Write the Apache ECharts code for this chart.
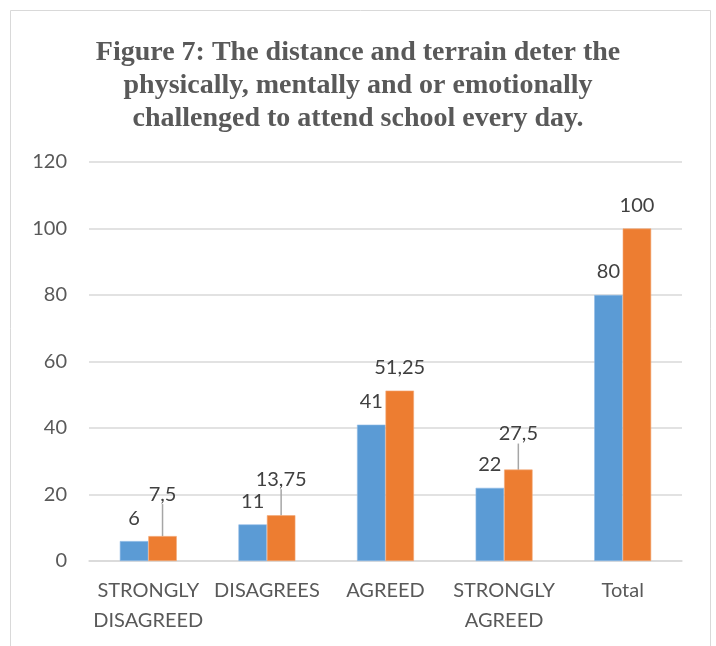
<!DOCTYPE html>
<html>
<head>
<meta charset="utf-8">
<script src="https://cdn.jsdelivr.net/npm/echarts@6/dist/echarts.min.js"></script>
<style>
  html, body { margin: 0; padding: 0; background: #ffffff; }
  #chart { width: 716px; height: 646px; }
</style>
</head>
<body>
<div id="chart"></div>
<script>
// Survey responses per category
const categories = ['STRONGLY\nDISAGREED', 'DISAGREES', 'AGREED', 'STRONGLY\nAGREED', 'Total'];
const countValues = [6, 11, 41, 22, 80];
const percentValues = [7.5, 13.75, 51.25, 27.5, 100];
const yTicks = [0, 20, 40, 60, 80, 100, 120];

// Extra lift for crowded orange labels (drawn with a leader line)
const percentLabelLift = [-19, -13, 0, -13, 0];

const titleText = 'Figure 7: The distance and terrain deter the\nphysically, mentally and or emotionally\nchallenged to attend school every day.';

const commaNumber = v => String(v).replace('.', ',');

// Only lifted labels get a leader line
const percentData = percentValues.map((v, i) => ({
  value: v,
  labelLine: { show: percentLabelLift[i] !== 0 }
}));

const chart = echarts.init(document.getElementById('chart'), null, { renderer: 'canvas' });

const valueLabel = {
  show: true,
  position: 'top',
  distance: 13,
  color: '#404040',
  fontFamily: 'Lato',
  fontSize: 20,
  formatter: p => commaNumber(p.value)
};

chart.setOption({
  animation: false,
  backgroundColor: '#ffffff',
  title: {
    text: titleText,
    left: 'center',
    top: 31,
    textStyle: {
      fontFamily: '"Liberation Serif", "DejaVu Serif", serif',
      fontWeight: 'bold',
      fontSize: 28,
      lineHeight: 33,
      color: '#595959'
    }
  },
  graphic: [{
    type: 'rect',
    shape: { x: 10.5, y: 10.5, width: 700, height: 660 },
    style: { fill: 'none', stroke: '#d9d9d9', lineWidth: 1 },
    silent: true
  }],
  grid: { left: 89, right: 34, top: 162, bottom: 85, containLabel: false },
  xAxis: {
    type: 'category',
    data: categories,
    axisTick: { show: false },
    axisLine: { show: true, lineStyle: { color: '#d9d9d9', width: 1.5 } },
    axisLabel: {
      color: '#595959',
      fontFamily: 'Lato',
      fontSize: 20,
      lineHeight: 30,
      margin: 15,
      interval: 0
    }
  },
  yAxis: {
    type: 'value',
    min: yTicks[0],
    max: yTicks[yTicks.length - 1],
    interval: 20,
    axisLine: { show: false },
    axisTick: { show: false },
    splitLine: { lineStyle: { color: '#d9d9d9', width: 1.5 } },
    axisLabel: {
      color: '#595959',
      fontFamily: 'Lato',
      fontSize: 20,
      margin: 22
    }
  },
  series: [
    {
      name: 'Count',
      type: 'bar',
      data: countValues,
      barGap: '0%',
      barCategoryGap: '52%',
      itemStyle: { color: '#5b9bd5', borderColor: '#8fbbe6', borderWidth: 0.6 },
      label: valueLabel
    },
    {
      name: 'Percent',
      type: 'bar',
      data: percentData,
      barGap: '0%',
      barCategoryGap: '52%',
      itemStyle: { color: '#ed7d31', borderColor: '#f4a777', borderWidth: 0.6 },
      label: valueLabel,
      labelLine: { show: true, lineStyle: { color: '#a6a6a6', width: 1.5 } },
      labelLayout: p => (percentLabelLift[p.dataIndex] ? { dy: percentLabelLift[p.dataIndex] } : null)
    }
  ]
});
</script>
</body>
</html>
